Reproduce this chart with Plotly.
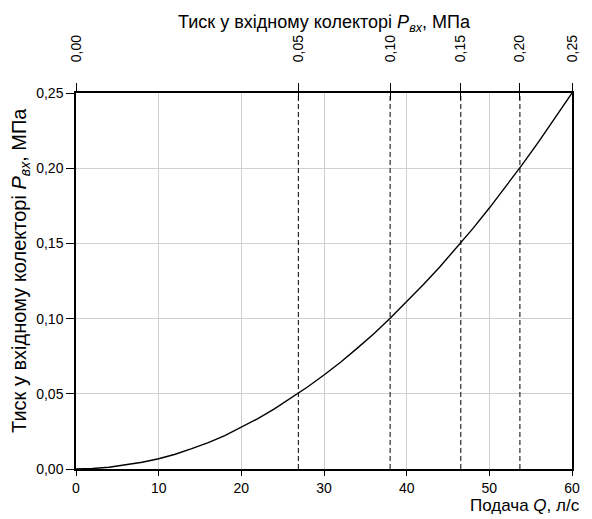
import plotly.graph_objects as go

# Flow rate Q, l/s and inlet manifold pressure P, MPa
Q = [0, 2, 4, 6, 8, 10, 12, 14, 16, 18, 20, 22, 24, 26, 28, 30,
     32, 34, 36, 38, 40, 42, 44, 46, 48, 50, 52, 54, 56, 58, 60]
P = [0.0, 0.0003, 0.0012, 0.0026, 0.0045, 0.0068, 0.0098, 0.0135, 0.0175,
     0.0222, 0.0276, 0.0335, 0.0400, 0.0470, 0.0545, 0.0625, 0.0710, 0.0802,
     0.0898, 0.1002, 0.1112, 0.1225, 0.1343, 0.1468, 0.1598, 0.1735, 0.1877,
     0.2025, 0.2178, 0.2336, 0.2500]

# Top-axis marks: flow rate at which pressure reaches each value
p_marks = [0.00, 0.05, 0.10, 0.15, 0.20, 0.25]
q_marks = [0, 26.9, 38.0, 46.55, 53.7, 60]
p_labels = ["0,00", "0,05", "0,10", "0,15", "0,20", "0,25"]

FONT = "Liberation Sans, Arial, sans-serif"
TITLE = "Тиск у вхідному колекторі <i>P</i><sub><i>вх</i></sub>, МПа"

fig = go.Figure()
fig.add_trace(go.Scatter(x=Q, y=P, mode="lines",
                         line=dict(color="black", width=1.4),
                         showlegend=False, hoverinfo="skip"))
fig.add_trace(go.Scatter(x=q_marks, y=p_marks, xaxis="x2", mode="markers",
                         marker=dict(opacity=0), showlegend=False, hoverinfo="skip"))
fig.add_trace(go.Scatter(x=q_marks, y=p_marks, xaxis="x3", mode="markers",
                         marker=dict(opacity=0), showlegend=False, hoverinfo="skip"))

for q in q_marks[1:-1]:
    fig.add_shape(type="line", x0=q, x1=q, y0=0, y1=1, xref="x", yref="paper",
                  line=dict(color="black", width=1, dash="5px,3px"))

fig.update_layout(
    width=584, height=511,
    margin=dict(l=68, r=17, t=85, b=50),
    plot_bgcolor="white", paper_bgcolor="white",
    separators=", ",
    font=dict(family=FONT, size=14, color="black"),
    xaxis=dict(range=[0, 60], dtick=10, showgrid=True, gridcolor="#cfcfcf",
               gridwidth=1, showline=True, linecolor="black", linewidth=1.5,
               ticks="outside", ticklen=5, tickcolor="black", zeroline=False),
    xaxis2=dict(overlaying="x", side="top", anchor="y", range=[0, 60],
                tickmode="array", tickvals=q_marks, ticktext=p_labels,
                tickangle=-90, ticks="outside", ticklen=8, tickcolor="black",
                showline=True, linecolor="black", linewidth=2, showgrid=False,
                zeroline=False, ticklabelstandoff=18,
                title=dict(text=TITLE, font=dict(size=18), standoff=0)),
    xaxis3=dict(overlaying="x", side="top", anchor="y", range=[0, 60],
                tickmode="array", tickvals=q_marks, ticks="inside", ticklen=7,
                tickcolor="black", showticklabels=False, showline=False,
                showgrid=False, zeroline=False),
    yaxis=dict(range=[0, 0.25], dtick=0.05, tickformat=".2f", showgrid=True,
               gridcolor="#cfcfcf", gridwidth=1, showline=True, linecolor="black",
               linewidth=1.5, mirror=True, ticks="outside", ticklen=8,
               tickcolor="black", zeroline=False),
    annotations=[
        dict(text=TITLE, xref="paper", yref="paper", x=-0.112, y=0.528,
             xanchor="center", yanchor="middle", textangle=-90,
             showarrow=False, font=dict(size=20)),
        dict(text="Подача <i>Q</i>, л/с", xref="paper", yref="paper",
             x=1.02, y=-0.098, xanchor="right", yanchor="middle",
             showarrow=False, font=dict(size=17)),
    ],
)

fig.write_html("out.html")
